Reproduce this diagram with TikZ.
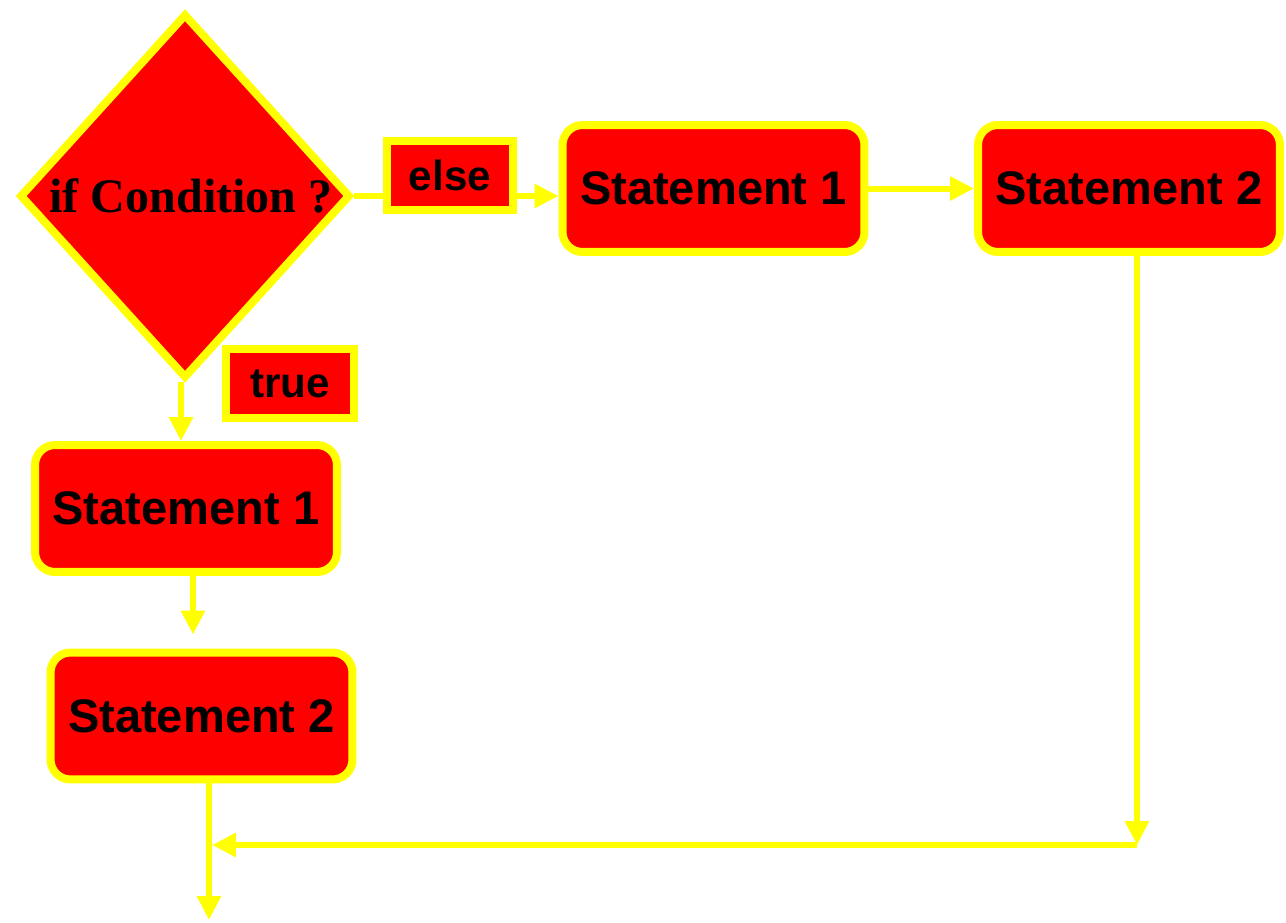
\documentclass[tikz,border=0pt]{standalone}
\usepackage{fontspec}
\setmainfont{Liberation Serif}
\setsansfont{Liberation Sans}
\usetikzlibrary{arrows.meta}
\usetikzlibrary{shapes.geometric}

\definecolor{edgeyellow}{RGB}{255,255,0}
\definecolor{boxred}{RGB}{255,0,0}

\begin{document}
\begin{tikzpicture}[x=0.02cm,y=-0.02cm,
    stmt/.style={draw=edgeyellow,fill=boxred,line width=0.16cm,rounded corners=0.4cm,
      minimum width=6.04cm,minimum height=2.54cm,
      font=\sffamily\bfseries\fontsize{26.8}{30}\selectfont},
    tag/.style={draw=edgeyellow,fill=boxred,line width=0.16cm,minimum height=1.38cm,
      font=\sffamily\bfseries\fontsize{24}{28}\selectfont},
    link/.style={draw=edgeyellow,line width=0.12cm},
    flow/.style={link,-{Triangle[width=0.46cm,length=0.48cm]}}]

    \useasboundingbox (0,0) rectangle (1286,923);

    % decision
    \node[shape=diamond,draw=edgeyellow,fill=boxred,line width=0.16cm,inner sep=0pt,
      minimum width=6.62cm,minimum height=7.3cm,
      font=\rmfamily\bfseries\fontsize{27.4}{30}\selectfont] (cond) at (185,196) {\hspace*{0.24cm}if Condition ?};

    % branch labels
    \node[tag,minimum width=2.52cm] (elsebox) at (450,175.5) {else};
    \node[tag,minimum width=2.56cm] (truebox) at (290,383.5) {true};

    % true branch
    \node[stmt] (st1l) at (186,508.5) {Statement 1};
    \node[stmt] (st2l) at (201.5,716) {Statement 2};

    % else branch
    \node[stmt] (st1r) at (713.5,188.5) {Statement 1};
    \node[stmt] (st2r) at (1129,188.5) {Statement 2};

    \coordinate (joinr) at (1137,845);
    \coordinate (joinl) at (209,845);
    \coordinate (outl) at (209,920);

    \draw[flow] ([xshift=-0.08cm]cond.south) -- ([xshift=-0.08cm]cond.south |- st1l.north);
    \draw[flow,shorten >=0.28cm] ([xshift=0.14cm]st1l.south) -- ([xshift=0.14cm]st1l.south |- st2l.north);

    \draw[link] (cond.east) -- (cond.east -| elsebox.west);
    \draw[flow] (cond.east -| elsebox.east) -- (cond.east -| st1r.west);
    \draw[flow] (st1r.east) -- (st2r.west);

    \draw[flow] (st2r.south -| joinr) -- (joinr);
    \draw[flow,shorten >=0.06cm] (joinr) -- (joinl);
    \draw[flow] (st2l.south -| joinl) -- (outl);
\end{tikzpicture}
\end{document}
